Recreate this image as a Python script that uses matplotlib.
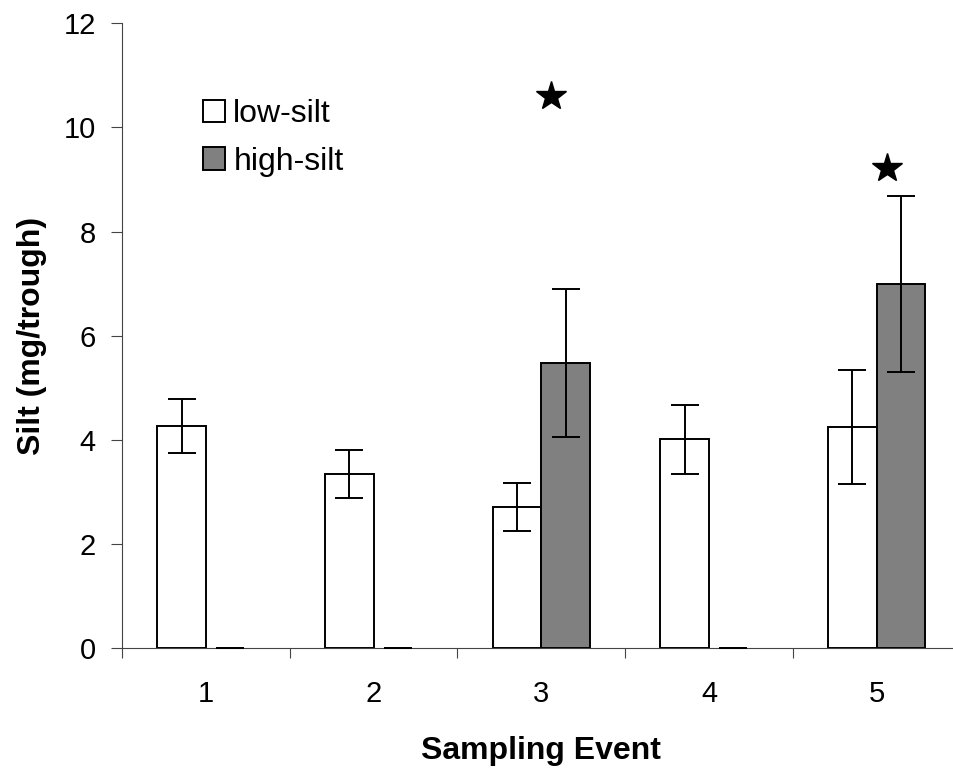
import matplotlib
matplotlib.use("Agg")
from matplotlib import pyplot as plt
from matplotlib.patches import Patch
import numpy as np

plt.rcParams['font.family'] = ['Liberation Sans', 'DejaVu Sans']

events = ["1", "2", "3", "4", "5"]
low_silt = [4.27, 3.34, 2.72, 4.01, 4.25]
low_err = [0.52, 0.46, 0.46, 0.67, 1.10]
high_silt = [0, 0, 5.47, 0, 6.99]
high_err = [0, 0, 1.42, 0, 1.69]
star_events = [3, 5]
star_y = [10.61, 9.23]

W = 0.29
x = np.arange(1, len(events) + 1)

fig = plt.figure(figsize=(9.54, 7.72), dpi=100)
ax = fig.add_axes([0.1279, 0.1602, 0.8789, 0.8096])

ax.bar(x - W / 2, low_silt, W, color="white", edgecolor="black", linewidth=1.4, zorder=2)
ax.bar(x + W / 2, high_silt, W, color="#808080", edgecolor="black",
       linewidth=[1.4 if v > 0 else 0 for v in high_silt], zorder=2)

ax.errorbar(x - W / 2, low_silt, yerr=low_err, fmt="none", ecolor="black",
            elinewidth=1.4, capsize=10, capthick=1.4, zorder=3)
ax.errorbar(x + W / 2, high_silt, yerr=high_err, fmt="none", ecolor="black",
            elinewidth=1.4, capsize=10, capthick=1.4, zorder=3)

# estrelas de significancia
ax.plot(np.array(star_events) + 0.06, star_y, linestyle="none", marker="*",
        markersize=22, color="black")

ax.set_xlim(0.5, 5.5)
ax.set_ylim(0, 12)
ax.set_yticks(range(0, 13, 2))
ax.set_xticks(x)
ax.set_xticklabels(events)
ax.set_xticks(np.arange(0.5, 5.6, 1), minor=True)

ax.tick_params(axis="x", which="major", length=0, pad=23, labelsize=21)
ax.tick_params(axis="x", which="minor", length=7, width=0.8, color="#444444")
ax.tick_params(axis="y", length=8, width=0.8, color="#444444", pad=11, labelsize=21)

for side in ["top", "right"]:
    ax.spines[side].set_visible(False)
for side in ["left", "bottom"]:
    ax.spines[side].set_color("#444444")
    ax.spines[side].set_linewidth(0.8)

ax.set_xlabel("Sampling Event", fontsize=23, fontweight="bold", labelpad=20)
ax.set_ylabel("Silt (mg/trough)", fontsize=23, fontweight="bold", labelpad=12)

handles = [Patch(facecolor="white", edgecolor="black", linewidth=1.4, label="low-silt"),
           Patch(facecolor="#808080", edgecolor="black", linewidth=1.4, label="high-silt")]
ax.legend(handles=handles, loc="upper left", bbox_to_anchor=(203 / 954, 1 - 99 / 772),
          bbox_transform=fig.transFigure, frameon=False, fontsize=23,
          handlelength=0.7, handleheight=0.7, handletextpad=0.25,
          labelspacing=0.55, borderpad=0, borderaxespad=0)

fig.savefig("out.png", dpi=100)
